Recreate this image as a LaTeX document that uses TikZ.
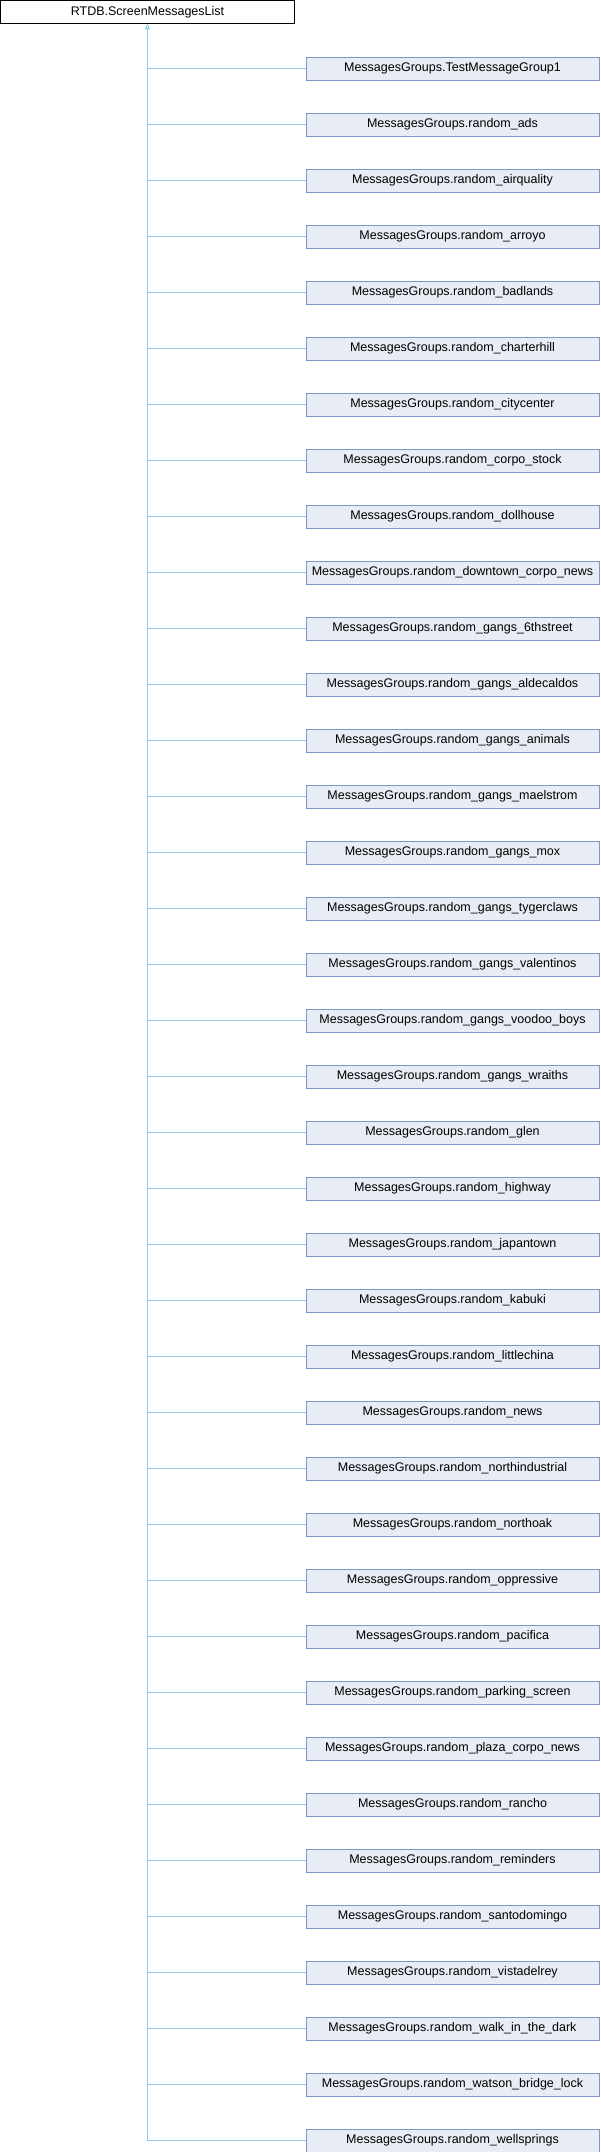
\documentclass[tikz,border=0pt]{standalone}
\usepackage{fontspec}
\setmainfont{Liberation Sans}
\usetikzlibrary{arrows.meta}
\definecolor{edgecol}{RGB}{145,200,235}
\definecolor{boxfill}{RGB}{232,236,245}
\definecolor{boxdraw}{RGB}{124,150,203}
\begin{document}
\begin{tikzpicture}[x=1pt,y=1pt,
  rootbox/.style={draw=black, fill=white, line width=1pt, minimum width=294pt, minimum height=23pt, inner sep=0pt, font=\fontsize{12.5}{14}\selectfont},
  childbox/.style={draw=boxdraw, fill=boxfill, line width=1pt, minimum width=293pt, minimum height=23pt, inner sep=0pt, font=\fontsize{12.5}{14}\selectfont},
  edge/.style={draw=edgecol, line width=1pt}]
\useasboundingbox (0,0) rectangle (600,-2152);
\node[rootbox] (root) at (147.5,-12) {RTDB.ScreenMessagesList};
\foreach \i/\t in {0/TestMessageGroup1,1/random\_ads,2/random\_airquality,3/random\_arroyo,4/random\_badlands,5/random\_charterhill,6/random\_citycenter,7/random\_corpo\_stock,8/random\_dollhouse,9/random\_downtown\_corpo\_news,10/random\_gangs\_6thstreet,11/random\_gangs\_aldecaldos,12/random\_gangs\_animals,13/random\_gangs\_maelstrom,14/random\_gangs\_mox,15/random\_gangs\_tygerclaws,16/random\_gangs\_valentinos,17/random\_gangs\_voodoo\_boys,18/random\_gangs\_wraiths,19/random\_glen,20/random\_highway,21/random\_japantown,22/random\_kabuki,23/random\_littlechina,24/random\_news,25/random\_northindustrial,26/random\_northoak,27/random\_oppressive,28/random\_pacifica,29/random\_parking\_screen,30/random\_plaza\_corpo\_news,31/random\_rancho,32/random\_reminders,33/random\_santodomingo,34/random\_vistadelrey,35/random\_walk\_in\_the\_dark,36/random\_watson\_bridge\_lock,37/random\_wellsprings}{
  \node[childbox] (c\i) at (452.5,{-68.5-56*\i}) {MessagesGroups.\t};
  \draw[edge] (c\i.west) -- (c\i.west -| root.south);
}
\coordinate (trunkend) at (c37.west -| root.south);
\draw[edge, -{Triangle[open, length=5pt, width=5pt]}] (trunkend) -- (root.south);
\end{tikzpicture}
\end{document}
